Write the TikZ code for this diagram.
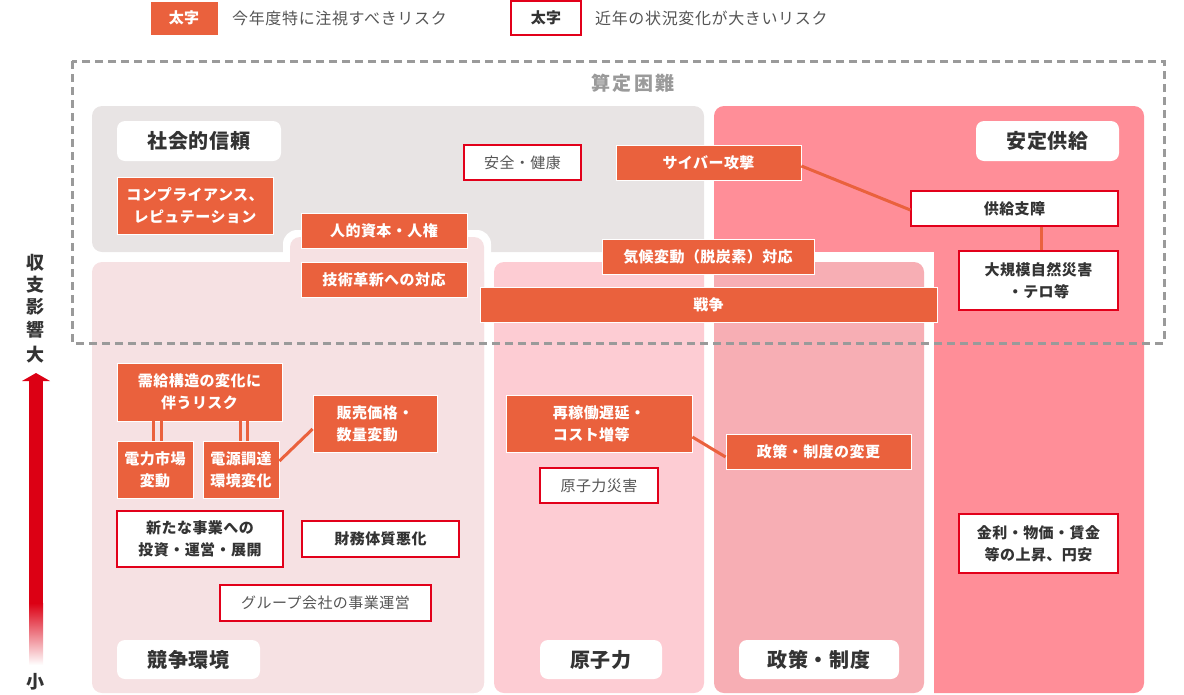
\documentclass[tikz,border=0pt]{standalone}
\usepackage{fontspec}
\setmainfont{Noto Sans CJK JP}
\definecolor{corange}{HTML}{EA613D}
\definecolor{cred}{HTML}{E2001A}
\definecolor{carrow}{HTML}{DC0014}
\definecolor{cgray}{HTML}{E8E4E4}
\definecolor{ccomp}{HTML}{F6E1E3}
\definecolor{cnuc}{HTML}{FDCCD3}
\definecolor{cpol}{HTML}{F7AEB4}
\definecolor{cstab}{HTML}{FF8E98}
\definecolor{cdark}{HTML}{333333}
\definecolor{cmid}{HTML}{555555}
\definecolor{cdash}{HTML}{9A9A9A}
\begin{document}
\begin{tikzpicture}[x=1pt,y=-1pt,
  base/.style={inner sep=0pt, align=center, font=\fontsize{15}{22}\selectfont\addfontfeature{LetterSpace=3}},
  obox/.style={base, fill=corange, draw=white, line width=0.8pt, text=white, font=\bfseries\fontsize{15}{22}\selectfont\addfontfeature{LetterSpace=3}},
  wbox/.style={base, fill=white, draw=cred, line width=1.2pt, text=cmid},
  wboxb/.style={wbox, text=cdark, font=\bfseries\fontsize{15}{22}\selectfont\addfontfeature{LetterSpace=3}},
  lbl/.style={base, fill=white, rounded corners=8pt, text=cdark, font=\bfseries\fontsize{20}{22}\selectfont\addfontfeature{LetterSpace=4}},
  legtext/.style={inner sep=0pt, anchor=west, text=cmid, font=\fontsize{16}{20}\selectfont\addfontfeature{LetterSpace=4}},
  conn/.style={draw=corange, line width=3pt},
  axis/.style={inner sep=0pt, text=cdark, font=\bfseries\fontsize{18}{20}\selectfont},
  sz/.style 2 args={minimum width=#1, minimum height=#2}
]
\useasboundingbox (0,0) rectangle (1184,694);

% ---- panels
\fill[cgray, rounded corners=10pt] (92,106) rectangle (704,252);
\fill[cstab, rounded corners=10pt] (714,106) rectangle (1144,693);
\fill[white] (704,252) rectangle (934,694);
\fill[cpol, rounded corners=10pt] (714,262) rectangle (924,693);
\fill[cnuc, rounded corners=10pt] (494,262) rectangle (704,693);
\fill[white, rounded corners=14pt] (283,230) rectangle (491,290);
\fill[ccomp, rounded corners=10pt] (290,237) rectangle (484,693);
\fill[ccomp, rounded corners=10pt] (92,262) rectangle (484,693);

% ---- dashed frame
\draw[cdash, line width=3pt, dash pattern=on 8pt off 5pt] (72,61) rectangle (1164,343);
\node[inner sep=0pt, text=cdash, font=\bfseries\fontsize{19}{20}\selectfont\addfontfeature{LetterSpace=12}] (title) at (633,83) {算定困難};

% ---- legend
\node[obox, sz={68}{34}] (legA) at (184,18) {太字};
\node[legtext] (legAt) at (232,18) {今年度特に注視すべきリスク};
\node[wboxb, sz={70}{34}] (legB) at (546,18) {太字};
\node[legtext] (legBt) at (595,18) {近年の状況変化が大きいリスク};

% ---- axis
\node[axis] (ax1) at (36,263) {収};
\node[axis] (ax2) at (36,285) {支};
\node[axis] (ax3) at (36,307) {影};
\node[axis] (ax4) at (36,330) {響};
\node[axis] (axbig) at (36,355) {大};
\node[axis] (axsmall) at (36,682) {小};
\fill[carrow] (22,381) -- (36,373) -- (50,381) -- cycle;
\fill[carrow] (29,380) rectangle (43,604);
\shade[top color=carrow, bottom color=white] (29,603) rectangle (43,665);

% ---- category labels
\node[lbl, sz={164}{40}] (lsoc) at (199,141) {社会的信頼};
\node[lbl, sz={143}{40}] (lstab) at (1047.5,141) {安定供給};
\node[lbl, sz={143}{39}] (lcomp) at (188.5,659.5) {競争環境};
\node[lbl, sz={122}{39}] (lnuc) at (601,659.5) {原子力};
\node[lbl, sz={160}{39}] (lpol) at (819,659.5) {政策・制度};

% ---- risk boxes
\node[obox, sz={156}{57}] (comp) at (195,205.5) {コンプライアンス、\\レピュテーション};
\node[obox, sz={166}{35}] (human) at (384,230.5) {人的資本・人権};
\node[obox, sz={166}{35}] (tech) at (384,279.5) {技術革新への対応};
\node[wbox, sz={117}{35}] (safety) at (522.5,162.5) {安全・健康};
\node[obox, sz={185}{35}] (cyber) at (708.5,162.5) {サイバー攻撃};
\node[obox, sz={212}{35}] (climate) at (708,256.5) {気候変動（脱炭素）対応};
\node[obox, sz={457}{35}] (war) at (708.5,304.5) {戦争};
\node[wboxb, sz={207}{35}] (supply) at (1014.5,208.5) {供給支障};
\node[wboxb, sz={159}{59}] (disaster) at (1038.5,280.5) {大規模自然災害\\・テロ等};
\node[obox, sz={165}{58}] (demand) at (199.5,392) {需給構造の変化に\\伴うリスク};
\node[obox, sz={76}{57}] (market) at (155,469.5) {電力市場\\変動};
\node[obox, sz={76}{57}] (procure) at (241,469.5) {電源調達\\環境変化};
\node[obox, sz={124}{57}, align=left] (price) at (375,423.5) {販売価格・\\数量変動};
\node[wboxb, sz={166}{56}] (newbiz) at (200,539) {新たな事業への\\投資・運営・展開};
\node[wboxb, sz={157}{36}] (finance) at (380.5,539) {財務体質悪化};
\node[wbox, sz={211}{36}] (group) at (325.5,603) {グループ会社の事業運営};
\node[obox, sz={186}{57}, align=left] (restart) at (599,423.5) {再稼働遅延・\\コスト増等};
\node[obox, sz={185}{35}] (polchg) at (818.5,451.5) {政策・制度の変更};
\node[wbox, sz={118}{35}] (nucdis) at (599,485.5) {原子力災害};
\node[wboxb, sz={159}{59}] (rates) at (1038.5,543.5) {金利・物価・賃金\\等の上昇、円安};

% ---- connectors
\draw[conn] ([yshift=-3.5pt]cyber.east) -- ([yshift=-1.5pt]supply.west);
\draw[conn] ([xshift=2.5pt]disaster.north) -- ([xshift=2.5pt]disaster.north |- supply.south);
\draw[conn] ([xshift=-2pt]market.north) -- ([xshift=-2pt]market.north |- demand.south);
\draw[conn] ([xshift=6pt]market.north) -- ([xshift=6pt]market.north |- demand.south);
\draw[conn] ([xshift=-0.5pt]procure.north) -- ([xshift=-0.5pt]procure.north |- demand.south);
\draw[conn] ([xshift=6.5pt]procure.north) -- ([xshift=6.5pt]procure.north |- demand.south);
\draw[conn] ([yshift=8.5pt]procure.east) -- ([yshift=-5.5pt]price.west);
\draw[conn] ([yshift=-13.5pt]restart.east) -- ([yshift=-5.5pt]polchg.west);
\end{tikzpicture}
\end{document}
